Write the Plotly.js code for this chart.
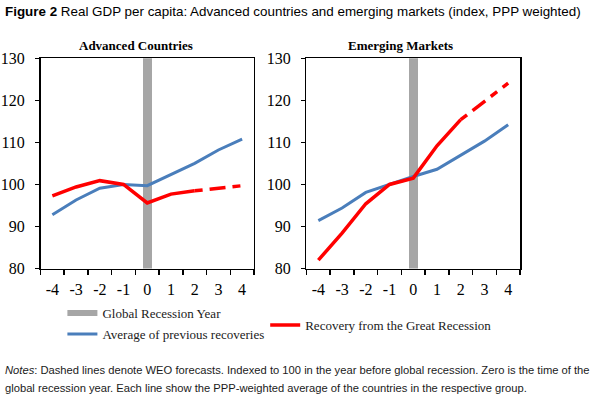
<!DOCTYPE html>
<html>
<head>
<meta charset="utf-8">
<script src="https://cdn.plot.ly/plotly-3.0.1.min.js"></script>
<style>html,body{margin:0;padding:0;background:#fff;}#chart{width:600px;height:403px;}</style>
</head>
<body>
<div id="chart"></div>
<script>
// ---- data ----
const years = [-4, -3, -2, -1, 0, 1, 2, 3, 4];
const yearLabels = ["-4", "-3", "-2", "-1", "0", "1", "2", "3", "4"];
const recessionYear = [0];
const recessionTop = [130];
const advAverage  = [92.8, 96.3, 99.1, 100.0, 99.7, 102.4, 105.0, 108.2, 110.8];
const advRecovery = [97.3, 99.4, 100.9, 100.0, 95.6, 97.7, 98.5, 99.1, 99.7];
const emAverage   = [91.4, 94.4, 98.1, 100.0, 101.9, 103.6, 107.0, 110.3, 114.2];
const emRecovery  = [82.0, 88.4, 95.4, 100.0, 101.5, 109.2, 115.4, 119.7, 124.1];
const forecastStart = 2; // forecasts (dashed) from year 2 onward
const yTicks = [80, 90, 100, 110, 120, 130];

const blue = '#4a7ebb', red = '#ff0000', gray = '#a6a6a6';
const serif = 'Liberation Serif, Times New Roman, serif';
const sans = 'Liberation Sans, Arial, sans-serif';

function split(xs, ys, solid) {
  const ox = [], oy = [];
  xs.forEach((x, i) => {
    if (solid ? x <= forecastStart : x >= forecastStart) { ox.push(x); oy.push(ys[i]); }
  });
  return {x: ox, y: oy};
}

const traces = [];
[['x', 'y'], ['x2', 'y2']].forEach(([xa, ya], k) => {
  const avg = k === 0 ? advAverage : emAverage;
  const rec = k === 0 ? advRecovery : emRecovery;
  traces.push({type: 'bar', x: recessionYear, y: recessionTop, width: 0.38,
    marker: {color: gray, line: {width: 0}}, xaxis: xa, yaxis: ya, showlegend: false, hoverinfo: 'skip'});
  traces.push({type: 'scatter', mode: 'lines', x: years, y: avg, xaxis: xa, yaxis: ya,
    line: {color: blue, width: 3}, name: 'Average of previous recoveries',
    showlegend: k === 0, legend: 'legend2'});
  const s = split(years, rec, true), d = split(years, rec, false);
  traces.push({type: 'scatter', mode: 'lines', x: s.x, y: s.y, xaxis: xa, yaxis: ya,
    line: {color: red, width: 3.5}, name: 'Recovery from the Great Recession',
    showlegend: k === 0, legend: 'legend3'});
  traces.push({type: 'scatter', mode: 'lines', x: d.x, y: d.y, xaxis: xa, yaxis: ya,
    line: {color: red, width: 3.5, dash: '8px,7px,16px,7px'}, showlegend: false});
});
// legend entry for the recession bar
traces.push({type: 'scatter', mode: 'lines', x: [null], y: [null], xaxis: 'x', yaxis: 'y',
  line: {color: gray, width: 6}, name: 'Global Recession Year', showlegend: true, legend: 'legend'});

function xAxis(domain, anchor) {
  return {domain: domain, anchor: anchor, range: [-4.5, 4.5], tickmode: 'array',
    tickvals: years, ticktext: yearLabels, ticks: '', showgrid: false, zeroline: false,
    showline: true, linecolor: '#000', linewidth: 1, mirror: true,
    tickfont: {family: serif, size: 16, color: '#000'}, ticklabelstandoff: 6,
    minor: {tick0: -4.5, dtick: 1, ticks: 'outside', ticklen: 5, tickcolor: '#000', tickwidth: 1.5, showgrid: false},
    fixedrange: true};
}
function yAxis(anchor) {
  return {domain: [0.3337, 0.8553], anchor: anchor, range: [80, 130], tickmode: 'array',
    tickvals: yTicks, ticks: 'outside', ticklen: 4, tickcolor: '#000', tickwidth: 1.5,
    showgrid: false, zeroline: false, showline: true, linecolor: '#000', linewidth: 1.5, mirror: true,
    tickfont: {family: serif, size: 16, color: '#000'}, ticklabelstandoff: 7, fixedrange: true};
}

const legendBase = {orientation: 'v', xanchor: 'left', yanchor: 'middle', bgcolor: 'rgba(0,0,0,0)',
  borderwidth: 0, font: {family: serif, size: 13, color: '#1a1a1a'}, tracegroupgap: 0};

const layout = {
  width: 600, height: 403,
  margin: {l: 0, r: 0, t: 0, b: 0},
  paper_bgcolor: '#fff', plot_bgcolor: '#fff',
  bargap: 0,
  xaxis: xAxis([0.0675, 0.4233], 'y'),
  yaxis: yAxis('x'),
  xaxis2: xAxis([0.5108, 0.8667], 'y2'),
  yaxis2: yAxis('x2'),
  legend: Object.assign({}, legendBase, {x: 0.104, y: 0.2233}),
  legend2: Object.assign({}, legendBase, {x: 0.104, y: 0.1712}),
  legend3: Object.assign({}, legendBase, {x: 0.442, y: 0.1935}),
  annotations: [
    {text: '<b>Figure 2</b> Real GDP per capita: Advanced countries and emerging markets (index, PPP weighted)',
     xref: 'paper', yref: 'paper', x: 3/600, y: 1 - 12/403, xanchor: 'left', yanchor: 'middle',
     showarrow: false, font: {family: sans, size: 13.4, color: '#000'}},
    {text: '<b>Advanced Countries</b>', xref: 'paper', yref: 'paper', x: 135.5/600, y: 1 - 45/403,
     xanchor: 'center', yanchor: 'middle', showarrow: false, font: {family: serif, size: 13, color: '#000'}},
    {text: '<b>Emerging Markets</b>', xref: 'paper', yref: 'paper', x: 400/600, y: 1 - 45/403,
     xanchor: 'center', yanchor: 'middle', showarrow: false, font: {family: serif, size: 13, color: '#000'}},
    {text: '<i>Notes</i>: Dashed lines denote WEO forecasts. Indexed to 100 in the year before global recession. Zero is the time of the',
     xref: 'paper', yref: 'paper', x: 3/600, y: 1 - 370/403, xanchor: 'left', yanchor: 'middle',
     showarrow: false, font: {family: sans, size: 11.2, color: '#1a1a1a'}},
    {text: 'global recession year. Each line show the PPP-weighted average of the countries in the respective group.',
     xref: 'paper', yref: 'paper', x: 3/600, y: 1 - 388/403, xanchor: 'left', yanchor: 'middle',
     showarrow: false, font: {family: sans, size: 11.2, color: '#1a1a1a'}}
  ]
};

Plotly.newPlot('chart', traces, layout, {displayModeBar: false, staticPlot: true});
</script>
</body>
</html>
